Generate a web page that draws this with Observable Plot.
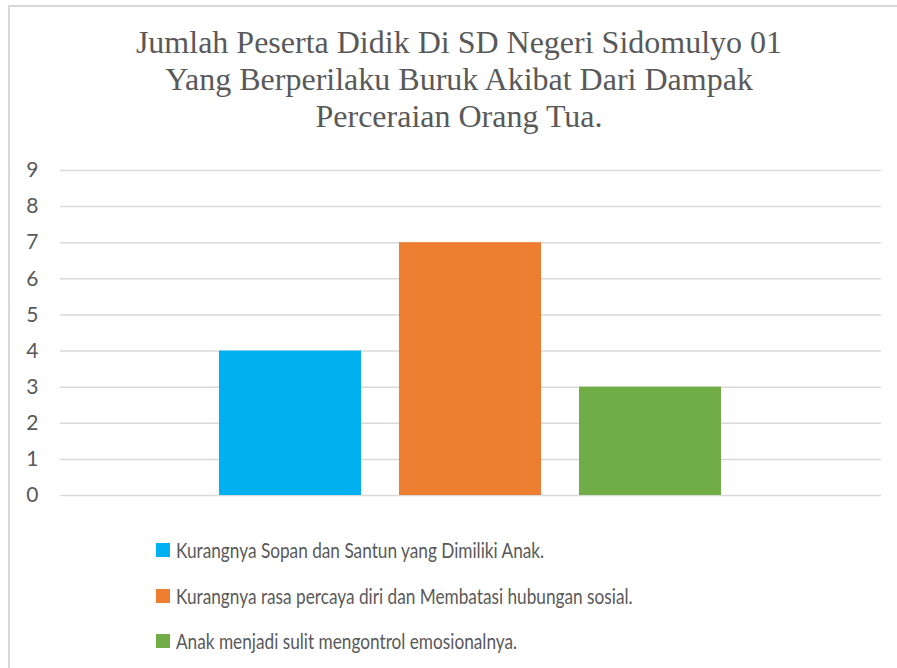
<!DOCTYPE html>
<html>
<head>
<meta charset="utf-8">
<script src="https://cdn.jsdelivr.net/npm/d3@7"></script>
<script src="https://cdn.jsdelivr.net/npm/@observablehq/plot@0.6"></script>
<style>
  html, body { margin: 0; padding: 0; background: #fff; }
  #page { position: relative; width: 897px; height: 668px; overflow: hidden; background: #fff; }
  #frame { position: absolute; left: 8px; top: 5px; width: 1000px; height: 1000px; border-left: 2px solid #d9d9d9; border-top: 2px solid #d9d9d9; box-sizing: border-box; }
  #title { position: absolute; left: 0; width: 918px; top: 24px; text-align: center; font-family: "Liberation Serif", "Times New Roman", serif; font-size: 32px; line-height: 37px; color: #595959; }
  #chart { position: absolute; left: 0; top: 150px; }
  #legend { position: absolute; left: 156px; top: 536px; font-family: Lato, "Open Sans", sans-serif; font-size: 21px; color: #595959; }
  .row { height: 45.5px; display: flex; align-items: flex-start; white-space: nowrap; position: relative; }
  .sw { width: 14px; height: 14px; margin-top: 7px; flex: none; }
  .lt { position: absolute; left: 20px; top: 1px; transform: scaleX(0.82); transform-origin: left center; }
</style>
</head>
<body>
<div id="page">
  <div id="frame"></div>
  <div id="title"></div>
  <div id="chart"></div>
  <div id="legend"></div>
</div>
<script>
const titleLines = [
  "Jumlah Peserta Didik Di SD Negeri Sidomulyo 01",
  "Yang Berperilaku Buruk Akibat Dari Dampak",
  "Perceraian Orang Tua."
];
const series = [
  "Kurangnya Sopan dan Santun yang Dimiliki Anak.",
  "Kurangnya rasa percaya diri dan Membatasi hubungan sosial.",
  "Anak menjadi sulit mengontrol emosionalnya."
];
const values = [4, 7, 3];
const colors = ["#00B0F0", "#ED7D31", "#70AD47"];
const yTicks = [0, 1, 2, 3, 4, 5, 6, 7, 8, 9];

const data = series.map((s, i) => ({series: s, value: values[i]}));

document.getElementById("title").innerHTML = titleLines.map(t => `<div>${t}</div>`).join("");

const chart = Plot.plot({
  width: 897,
  height: 360,
  marginLeft: 60,
  marginRight: 16,
  marginTop: 20,
  marginBottom: 15,
  style: {fontFamily: "Lato, 'Open Sans', sans-serif", fontSize: "21px", color: "#595959", background: "transparent", overflow: "visible"},
  x: {domain: series, paddingInner: 0.21, paddingOuter: 0.873, axis: null},
  y: {domain: [0, 9], ticks: yTicks, label: null},
  color: {domain: series, range: colors},
  marks: [
    Plot.ruleY(yTicks, {stroke: "#d9d9d9", strokeWidth: 1.5}),
    Plot.barY(data, {x: "series", y: "value", fill: "series"}),
    Plot.axisY({ticks: yTicks, tickSize: 0, tickPadding: 22, label: null, fill: "#595959"})
  ]
});
document.getElementById("chart").appendChild(chart);

const legend = document.getElementById("legend");
series.forEach((s, i) => {
  const row = document.createElement("div");
  row.className = "row";
  row.innerHTML = `<span class="sw" style="background:${colors[i]}"></span><span class="lt">${s}</span>`;
  legend.appendChild(row);
});
</script>
</body>
</html>
